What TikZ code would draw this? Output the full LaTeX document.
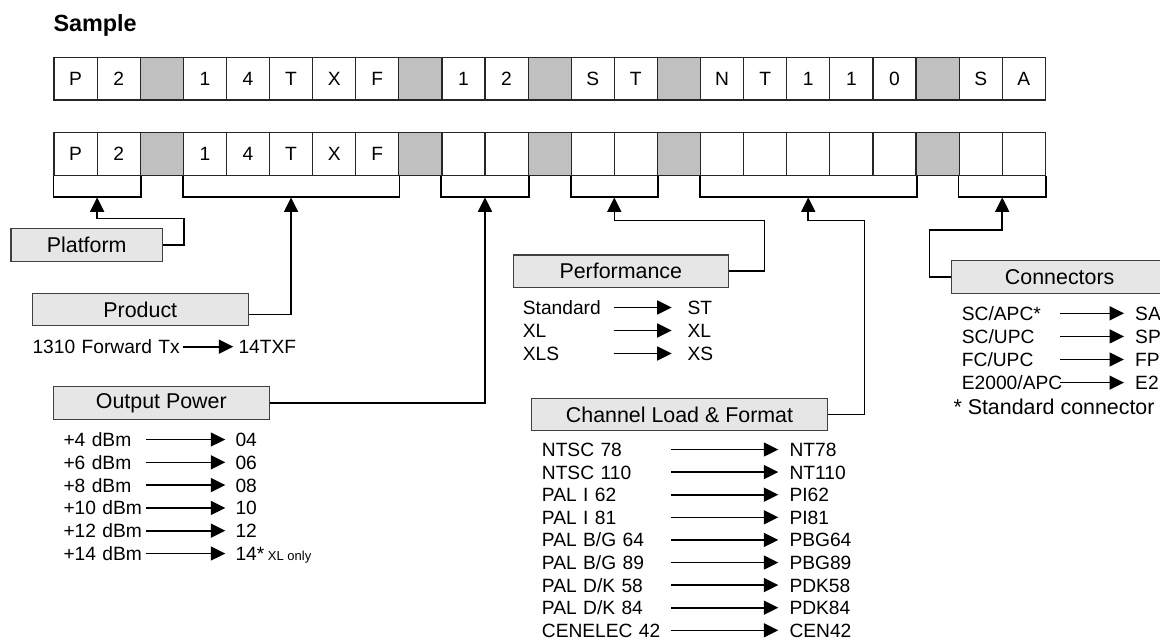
\documentclass[tikz,border=0pt]{standalone}
\usepackage{fontspec}
\setmainfont{Liberation Sans}
\usetikzlibrary{positioning, arrows.meta, calc}

\definecolor{cellgray}{RGB}{192,192,192}
\definecolor{boxgray}{RGB}{230,230,230}

\newcommand{\listfont}{\fontsize{19.2}{23}\selectfont}
\newcommand{\boxfont}{\fontsize{21.4}{25}\selectfont}

\tikzset{
  cell/.style={draw=black!85, line width=1.2pt, minimum width=43.1pt, minimum height=42.7pt, inner sep=0pt, font=\listfont},
  gap/.style={cell, fill=cellgray},
  labelbox/.style={draw=black!75, fill=boxgray, line width=1.2pt, minimum height=32.5pt, inner sep=0pt, font=\boxfont},
  bracketline/.style={line width=1.8pt},
  conn/.style={line width=1.6pt, -{Triangle[length=14.5pt, width=14pt]}},
  maparrow/.style={line width=1.6pt, -{Triangle[length=14.5pt, width=14pt]}},
  item/.style={anchor=west, inner sep=0pt, font=\listfont, text height=13.8pt, text depth=0pt, align=left},
}

\begin{document}
\begin{tikzpicture}[x=1pt, y=-1pt]
  \useasboundingbox (0,0) rectangle (1160,640);
  \clip (0,0) rectangle (1160,640);
  \fill[white] (0,0) rectangle (1160,640);

  % Title
  \node[anchor=base west, inner sep=0pt, font=\bfseries\fontsize{23.4}{28}\selectfont] (title) at (53.3,31.7) {Sample};

  % Sample code, top row
  \foreach \lbl/\sty [count=\i] in {P/cell, 2/cell, {}/gap, 1/cell, 4/cell, T/cell, X/cell, F/cell, {}/gap,
      1/cell, 2/cell, {}/gap, S/cell, T/cell, {}/gap, N/cell, T/cell, 1/cell, 1/cell, 0/cell, {}/gap, S/cell, A/cell}
    \node[\sty] (t\i) at ({54+(\i-0.5)*43.1},78.65) {\lbl};

  % Code template, bottom row
  \foreach \lbl/\sty [count=\i] in {P/cell, 2/cell, {}/gap, 1/cell, 4/cell, T/cell, X/cell, F/cell, {}/gap,
      {}/cell, {}/cell, {}/gap, {}/cell, {}/cell, {}/gap, {}/cell, {}/cell, {}/cell, {}/cell, {}/cell, {}/gap, {}/cell, {}/cell}
    \node[\sty] (b\i) at ({54+(\i-0.5)*43.1},154) {\lbl};

  % Brackets under the fields
  \foreach \a/\b/\nm in {1/2/brP, 4/8/brTX, 10/11/br12, 13/14/brST, 16/20/brNT, 22/23/brSA} {
    \draw[bracketline] (b\a.south west) -- ++(0,21.4) -| (b\b.south east);
    \coordinate (\nm) at ($(b\a.south west)!0.5!(b\b.south east)+(0,21.4)$);
  }

  % Field boxes
  \node[labelbox, minimum width=151.3pt] (platform) at (86.7,245) {Platform};
  \node[labelbox, minimum width=216pt] (product) at (140.3,309.5) {Product};
  \node[labelbox, minimum width=216pt] (power) at (161.3,403) {Output Power};
  \node[labelbox, minimum width=215pt] (perf) at (620.8,271.2) {Performance};
  \node[labelbox, minimum width=295.6pt] (chan) at (679.5,414.5) {Channel Load \& Format};
  \node[labelbox, minimum width=216pt] (plug) at (1059.7,276.9) {Connectors};

  % Connectors to the brackets
  \draw[conn] (platform.east) -- ++(21,0) |- ([yshift=-21pt]brP) -- (brP);
  \draw[conn] ([yshift=-5pt]product.east) -| (brTX);
  \draw[conn] (power.east) -| (br12);
  \draw[conn] (perf.east) -- ++(35.7,0) |- ([yshift=-23.3pt]brST) -- (brST);
  \draw[conn] (chan.east) -- ++(36.7,0) |- ([yshift=-23.3pt]brNT) -- (brNT);
  \draw[conn] (plug.west) -- ++(-21.7,0) |- ([yshift=-32.6pt]brSA) -- (brSA);

  % Product
  \node[item, text width=150.4pt] (prsrc) at (32.3,346.7) {1310 Forward Tx};
  \node[item] (prval) at (238.3,346.7) {14TXF};
  \draw[maparrow, shorten >=5pt] (prsrc.east) -- (prval.west);

  % Output power
  \foreach \src/\val [count=\i] in {+4 dBm/04, +6 dBm/06, +8 dBm/08, +10 dBm/10, +12 dBm/12,
      +14 dBm/{14*{\fontsize{13}{15}\selectfont\ XL only}}} {
    \node[item, text width=82.7pt] (pwsrc\i) at (63.3,{439.5+22.8*(\i-1)}) {\src};
    \node[item] (pwval\i) at (235.3,{439.5+22.8*(\i-1)}) {\val};
    \draw[maparrow, shorten >=10pt] (pwsrc\i.east) -- (pwval\i.west);
  }

  % Performance
  \foreach \src/\val [count=\i] in {Standard/ST, XL/XL, XLS/XS} {
    \node[item, text width=90.6pt] (pfsrc\i) at (522.7,{307.5+23*(\i-1)}) {\src};
    \node[item] (pfval\i) at (687.3,{307.5+23*(\i-1)}) {\val};
    \draw[maparrow, shorten >=15.6pt] (pfsrc\i.east) -- (pfval\i.west);
  }

  % Channel load and format
  \foreach \src/\val [count=\i] in {{NTSC 78}/NT78, {NTSC 110}/NT110, {PAL I 62}/PI62, {PAL I 81}/PI81,
      {PAL B/G 64}/PBG64, {PAL B/G 89}/PBG89, {PAL D/K 58}/PDK58, {PAL D/K 84}/PDK84, {CENELEC 42}/CEN42} {
    \node[item, text width=129.3pt] (chsrc\i) at (541.7,{449.5+22.6*(\i-1)}) {\src};
    \node[item] (chval\i) at (789.3,{449.5+22.6*(\i-1)}) {\val};
    \draw[maparrow, shorten >=11pt] (chsrc\i.east) -- (chval\i.west);
  }

  % Connector types
  \foreach \src/\val [count=\i] in {{SC/APC*}/SA, {SC/UPC}/SP, {FC/UPC}/FP, {E2000/APC}/E2} {
    \node[item, text width=98.3pt] (cnsrc\i) at (961.7,{313.3+23.1*(\i-1)}) {\src};
    \node[item] (cnval\i) at (1135,{313.3+23.1*(\i-1)}) {\val};
    \draw[maparrow, shorten >=11pt] (cnsrc\i.east) -- (cnval\i.west);
  }
  \node[item, font=\boxfont, text height=15.3pt] (cnnote) at (953.3,406.7) {* Standard connector};
\end{tikzpicture}
\end{document}
